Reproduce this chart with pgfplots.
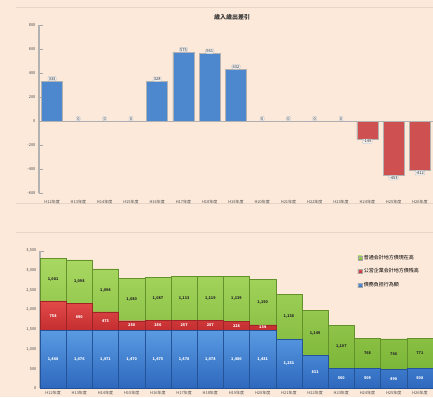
\documentclass[border=0pt]{standalone}
\usepackage{fontspec}
\setmainfont{Noto Sans CJK JP}
\usepackage{pgfplots}
\pgfplotsset{compat=1.18}
\usepackage{pgfplotstable}
\definecolor{bg}{HTML}{FCE9DA}
\definecolor{panel}{HTML}{E6D6CA}
\definecolor{tblue}{HTML}{4D87CE}
\definecolor{tred}{HTML}{CF5050}
\definecolor{bblueT}{HTML}{5A9BE2}
\definecolor{bblueB}{HTML}{2E68BE}
\definecolor{bredT}{HTML}{E24A4A}
\definecolor{bredB}{HTML}{C42E30}
\definecolor{bgreenT}{HTML}{A9D862}
\definecolor{bgreenB}{HTML}{7CB638}
\pgfplotstableread{
x blue red green
0 1468 758 1081
1 1476 690 1098
2 1471 473 1094
3 1470 250 1080
4 1475 256 1087
5 1478 257 1113
6 1478 257 1119
7 1480 228 1139
8 1481 134 1150
9 1251 0 1138
10 831 0 1149
11 500 0 1107
12 509 0 768
13 490 0 766
14 508 0 771
}\stackdata
\newcommand{\yrs}{H12年度,H13年度,H14年度,H15年度,H16年度,H17年度,H18年度,H19年度,H20年度,H21年度,H22年度,H23年度,H24年度,H25年度,H26年度}
\begin{document}
\begin{tikzpicture}[x=1pt,y=1pt]
\path[use as bounding box, fill=bg] (0,0) rectangle (433,397);
\draw[panel, line width=1pt] (16,389) -- (433,389);
\draw[panel, line width=1pt] (16,194) -- (433,194);
\draw[panel, line width=1pt] (16,165) -- (433,165);
\node[font=\bfseries\fontsize{6}{7}\selectfont, text=black!80] at (232,380) {歳入歳出差引};
\begin{axis}[
  at={(39pt,204pt)}, anchor=south west, scale only axis,
  width=394pt, height=168pt,
  ymin=-600, ymax=800, xmin=-0.5, xmax=14.5,
  /pgf/number format/assume math mode=true,
  axis lines*=left,
  x axis line style={draw=none},
  y axis line style={draw=gray!60, line width=1.2pt},
  ytick={-600,-400,...,800},
  ytick style={draw=gray!70},
  yticklabel style={font=\fontsize{4}{4.5}\selectfont, text=black!70},
  xtick={0,...,14}, xticklabels/.expanded=\yrs,
  xtick style={draw=none},
  xticklabel style={font=\fontsize{4}{4.5}\selectfont, text=black!70, yshift=1pt},
  extra y ticks={0}, extra y tick labels={},
  extra y tick style={grid=major, major grid style={draw=gray!60, line width=0.8pt}},
  ybar, bar width=21pt,
  nodes near coords,
  every node near coord/.append style={font=\fontsize{4}{4.5}\selectfont, text=black!80, fill=gray!12, draw=gray!50, rounded corners=1pt, inner sep=0.8pt, line width=0.3pt},
  clip=false,
]
\addplot[bar shift=0pt, fill=tblue, draw=gray!60, line width=0.6pt] coordinates {
(0,333) (1,0) (2,0) (3,0) (4,328) (5,575) (6,561) (7,432) (8,0) (9,0) (10,0) (11,0)};
\addplot[bar shift=0pt, fill=tred, draw=gray!60, line width=0.6pt] coordinates {
(12,-149) (13,-453) (14,-412)};
\end{axis}
\begin{axis}[
  at={(40pt,8.7pt)}, anchor=south west, scale only axis,
  width=393pt, height=137.6pt,
  ymin=0, ymax=3500, xmin=-0.5, xmax=14.5,
  /pgf/number format/assume math mode=true,
  /pgf/number format/1000 sep={,},
  axis lines*=left,
  x axis line style={draw=gray!60, line width=0.8pt},
  y axis line style={draw=gray!60, line width=1.2pt},
  ytick={0,500,...,3500},
  ytick style={draw=gray!70},
  yticklabel style={font=\fontsize{4}{4.5}\selectfont, text=black!70},
  xtick={0,...,14}, xticklabels/.expanded=\yrs,
  xtick style={draw=none},
  xticklabel style={font=\fontsize{4}{4.5}\selectfont, text=black!70, yshift=1pt},
  ybar stacked, bar width=26.2pt,
  clip=false,
  reverse legend,
  legend style={at={(0.80,1.0)}, anchor=north west, draw=none, fill=none,
    font=\fontsize{5}{6}\selectfont, row sep=4pt, cells={anchor=west}},
  legend image code/.code={\draw[#1, draw=gray!70, line width=0.3pt] (0pt,-2pt) rectangle (4pt,2pt);},
  lbl/.style={nodes near coords={\ifdim\rawy pt>0pt\pgfmathprintnumber{\rawy}\fi},
    every node near coord/.append style={anchor=center, font=\bfseries\fontsize{3.8}{4.2}\selectfont, text=#1}},
]
\addplot[top color=bblueT, bottom color=bblueB, draw=bblueB!80!black, line width=0.3pt,
  visualization depends on=\thisrow{blue}\as\rawy, lbl=white] table[x=x,y=blue]{\stackdata};
\addplot[top color=bredT, bottom color=bredB, draw=bredB!80!black, line width=0.3pt,
  visualization depends on=\thisrow{red}\as\rawy, lbl=white] table[x=x,y=red]{\stackdata};
\addplot[top color=bgreenT, bottom color=bgreenB, draw=bgreenB!80!black, line width=0.3pt,
  visualization depends on=\thisrow{green}\as\rawy, lbl=black!85] table[x=x,y=green]{\stackdata};
\legend{債務負担行為額,公営企業会計地方債残高,普通会計地方債現在高}
\end{axis}
\end{tikzpicture}
\end{document}
